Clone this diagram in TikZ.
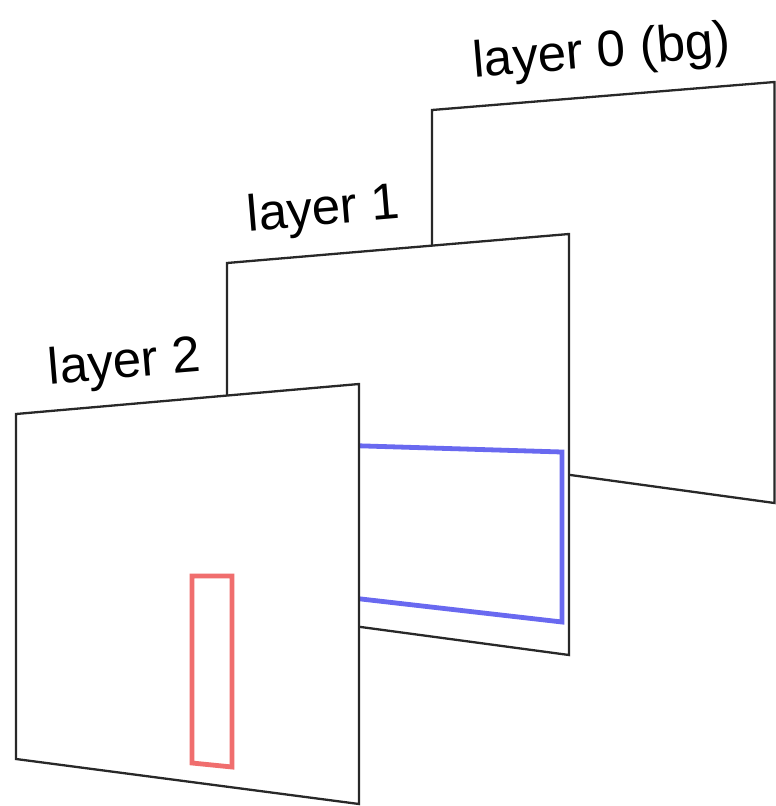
\documentclass[tikz,border=0pt]{standalone}
\usepackage{fontspec}
\setmainfont{Liberation Sans}
\definecolor{edge}{RGB}{40,40,40}
\definecolor{bluebox}{RGB}{105,105,240}
\definecolor{redbox}{RGB}{240,110,110}
\begin{document}
\begin{tikzpicture}[x=1pt,y=-1pt,
  layer/.style={draw=edge,fill=white,line width=2.3pt,line join=miter},
  lbl/.style={anchor=base,inner sep=0pt,rotate=4.8,font=\fontsize{51}{60}\selectfont},
  selbox/.style={line width=4.8pt,line join=miter}]
\useasboundingbox[fill=white] (0,0) rectangle (776,806);
% layer 0
\draw[layer] (432,110) -- (774.5,82) -- (774.5,503) -- (432,456) -- cycle;
% layer 1
\draw[layer] (227,263) -- (569,234) -- (569,655) -- (227,609) -- cycle;
\draw[selbox,draw=bluebox] (300,444) -- (562,452) -- (562,622) -- (300,592) -- cycle;
% layer 2
\draw[layer] (16,414) -- (359,384) -- (359,804) -- (16,759) -- cycle;
\draw[selbox,draw=redbox] (192,576) -- (232,576) -- (232,767) -- (192,763) -- cycle;
% labels
\node[lbl] (l0) at (603,67) {layer 0 (bg)};
\node[lbl] (l1) at (325,225) {layer 1};
\node[lbl] (l2) at (126,378) {layer 2};
\end{tikzpicture}
\end{document}
